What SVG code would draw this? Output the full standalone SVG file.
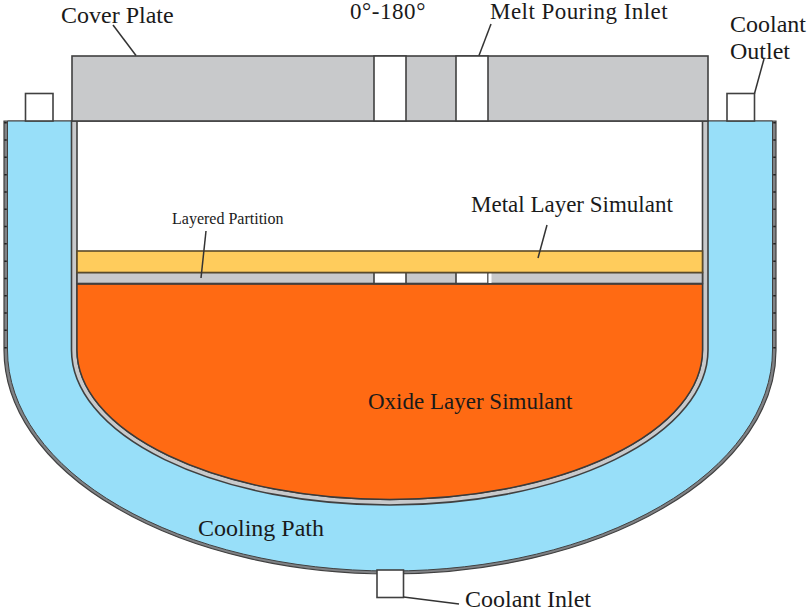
<svg xmlns="http://www.w3.org/2000/svg" width="809" height="611" viewBox="0 0 809 611">
<style>
text{font-family:"Liberation Serif","Times New Roman",serif;font-size:24px;fill:#1a1a1a}
.o{stroke:#404040;stroke-width:1.6}
.c{fill:none;stroke:#333;stroke-width:1.5}
.g{fill:#c8c9cb}
</style>
<rect width="809" height="611" fill="#fff"/>
<g id="vessel">
<path d="M4 121H776V350A386 224 0 0 1 4 350Z" fill="#808285" stroke="#404040" stroke-width="1.2"/>
<path d="M7.500 121H772.500V350A382.500 221 0 0 1 7.500 350Z" fill="#98dff9" stroke="#404040" stroke-width="1"/>
<path d="M5.500 122V350" fill="none" stroke="#222" stroke-width="2.500" stroke-dasharray="1.500 15.800"/>
<path d="M774.500 122V350" fill="none" stroke="#222" stroke-width="2.500" stroke-dasharray="1.500 15.800"/>
</g>
<g id="crucible">
<path d="M71.500 121H708V350A318.250 155 0 0 1 71.500 350Z" fill="#c8c9cb" class="o"/>
<path d="M77 121H702.500V350A312.750 149.500 0 0 1 77 350Z" fill="#fff" class="o"/>
</g>
<g id="oxide-layer">
<path d="M77 284H702.500V350A312.750 149.500 0 0 1 77 350Z" fill="#ff6a13" stroke="#3a3a3a" stroke-width="1.4"/>
<text x="368" y="409" style="font-size:23px">Oxide Layer Simulant</text>
</g>
<g id="partition">
<rect x="77" y="272.500" width="625.500" height="11" class="g o"/>
<rect x="374" y="272.500" width="32" height="11" fill="#fff" class="o"/>
<rect x="456" y="272.500" width="32" height="11" fill="#fff" class="o"/>
<rect x="488.500" y="273.500" width="3" height="9.500" fill="#fff"/>
<text x="172" y="224" style="font-size:16px">Layered Partition</text>
</g>
<g id="metal-layer">
<rect x="77" y="251" width="625.500" height="21.500" fill="#ffcc5c" stroke="#5a4a2a" stroke-width="1.600"/>
<text x="471" y="212" style="font-size:23px">Metal Layer Simulant</text>
</g>
<g id="cover-plate">
<rect x="72" y="56" width="636" height="65" class="g o"/>
<rect x="374" y="56" width="32" height="65" fill="#fff" class="o"/>
<rect x="456" y="56" width="32" height="65" fill="#fff" class="o"/>
<text x="61" y="23">Cover Plate</text>
<text x="350" y="19" style="font-size:23px;letter-spacing:.55px">0°-180°</text>
<text x="490" y="19" style="font-size:23px;letter-spacing:.45px">Melt Pouring Inlet</text>
</g>
<g id="port-left"><rect x="25.500" y="93.500" width="27.500" height="27.500" fill="#fff" class="o"/></g>
<g id="coolant-outlet">
<rect x="727" y="93.500" width="27.500" height="27.500" fill="#fff" class="o"/>
<text x="730" y="32">Coolant</text>
<text x="730" y="59">Outlet</text>
</g>
<g id="coolant-inlet">
<rect x="377" y="570" width="26.500" height="27.500" fill="#fff" class="o"/>
<text x="465" y="606.500">Coolant Inlet</text>
</g>
<g id="cooling-path"><text x="198" y="536">Cooling Path</text></g>
<g id="connectors">
<path class="c" d="M113 25L136 55.500"/>
<path class="c" d="M491 24L479 55.500"/>
<path class="c" d="M764 59L754.500 93.500"/>
<path class="c" d="M206 231L201 278"/>
<path class="c" d="M547 225L538 258"/>
<path class="c" d="M403.500 597L459 604"/>
</g>
</svg>
